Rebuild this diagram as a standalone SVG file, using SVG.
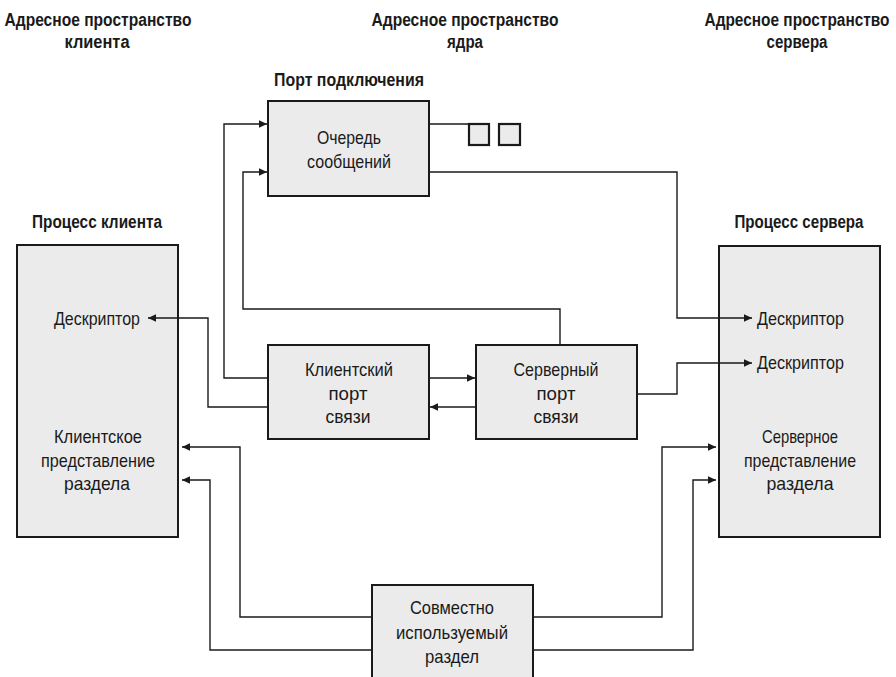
<svg xmlns="http://www.w3.org/2000/svg" width="896" height="677" viewBox="0 0 896 677">
  <style>
    text { font-family: "Liberation Sans", Arial, sans-serif; fill: #1a1a1a; text-anchor: middle; }
    .title { font-size: 18px; font-weight: bold; }
    .lbl { font-size: 19px; }
    .lbl-l { font-size: 19px; text-anchor: start; }
    .box { fill: #ebebeb; stroke: #1a1a1a; stroke-width: 2; }
    .cell { fill: #ebebeb; stroke: #1a1a1a; stroke-width: 2.2; }
    .wire { fill: none; stroke: #1a1a1a; stroke-width: 1.4; }
    .arr { fill: none; stroke: #1a1a1a; stroke-width: 1.4; marker-end: url(#head); }
  </style>
  <defs>
    <marker id="head" markerUnits="userSpaceOnUse" markerWidth="10" markerHeight="10" viewBox="0 0 10 10" refX="9" refY="5" orient="auto">
      <path d="M1,1.2 L9,5 L1,8.8 Z" fill="#1a1a1a"/>
    </marker>
  </defs>
  <rect width="896" height="677" fill="#ffffff"/>

  <!-- address space headings -->
  <g id="headings">
    <text class="title" x="98" y="26" textLength="187" lengthAdjust="spacingAndGlyphs">Адресное пространство</text>
    <text class="title" x="97" y="48" textLength="65" lengthAdjust="spacingAndGlyphs">клиента</text>
    <text class="title" x="465" y="26" textLength="187" lengthAdjust="spacingAndGlyphs">Адресное пространство</text>
    <text class="title" x="465" y="48" textLength="36" lengthAdjust="spacingAndGlyphs">ядра</text>
    <text class="title" x="797" y="26" textLength="185" lengthAdjust="spacingAndGlyphs">Адресное пространство</text>
    <text class="title" x="797" y="48" textLength="61" lengthAdjust="spacingAndGlyphs">сервера</text>
  </g>

  <!-- connection port with message queue -->
  <g id="connection-port">
    <text class="title" x="349" y="86" textLength="150" lengthAdjust="spacingAndGlyphs">Порт подключения</text>
    <rect class="box" x="268" y="101" width="161" height="95"/>
    <text class="lbl" x="349" y="144" textLength="64" lengthAdjust="spacingAndGlyphs">Очередь</text>
    <text class="lbl" x="349" y="168" textLength="84" lengthAdjust="spacingAndGlyphs">сообщений</text>
    <rect class="cell" x="469" y="124" width="20" height="21"/>
    <rect class="cell" x="499" y="124" width="21" height="21"/>
  </g>

  <!-- client process -->
  <g id="client-process">
    <text class="title" x="97" y="228" textLength="130" lengthAdjust="spacingAndGlyphs">Процесс клиента</text>
    <rect class="box" x="17" y="245" width="161" height="292"/>
    <text class="lbl" x="97" y="325" textLength="86" lengthAdjust="spacingAndGlyphs">Дескриптор</text>
    <text class="lbl" x="98" y="443" textLength="88" lengthAdjust="spacingAndGlyphs">Клиентское</text>
    <text class="lbl" x="98" y="467" textLength="114" lengthAdjust="spacingAndGlyphs">представление</text>
    <text class="lbl" x="97" y="490" textLength="66" lengthAdjust="spacingAndGlyphs">раздела</text>
  </g>

  <!-- server process -->
  <g id="server-process">
    <text class="title" x="799" y="228" textLength="129" lengthAdjust="spacingAndGlyphs">Процесс сервера</text>
    <rect class="box" x="719" y="246" width="161" height="291"/>
    <text class="lbl-l" x="757" y="325" textLength="87" lengthAdjust="spacingAndGlyphs">Дескриптор</text>
    <text class="lbl-l" x="757" y="369" textLength="87" lengthAdjust="spacingAndGlyphs">Дескриптор</text>
    <text class="lbl" x="800" y="443" textLength="76" lengthAdjust="spacingAndGlyphs">Серверное</text>
    <text class="lbl" x="800" y="467" textLength="112" lengthAdjust="spacingAndGlyphs">представление</text>
    <text class="lbl" x="800" y="490" textLength="67" lengthAdjust="spacingAndGlyphs">раздела</text>
  </g>

  <!-- client communication port -->
  <g id="client-comm-port">
    <rect class="box" x="268" y="345" width="161" height="94"/>
    <text class="lbl" x="349" y="376" textLength="88" lengthAdjust="spacingAndGlyphs">Клиентский</text>
    <text class="lbl" x="348" y="400" textLength="39" lengthAdjust="spacingAndGlyphs">порт</text>
    <text class="lbl" x="348" y="423" textLength="45" lengthAdjust="spacingAndGlyphs">связи</text>
  </g>

  <!-- server communication port -->
  <g id="server-comm-port">
    <rect class="box" x="476" y="345" width="161" height="94"/>
    <text class="lbl" x="556" y="376" textLength="85" lengthAdjust="spacingAndGlyphs">Серверный</text>
    <text class="lbl" x="556" y="400" textLength="39" lengthAdjust="spacingAndGlyphs">порт</text>
    <text class="lbl" x="556" y="423" textLength="45" lengthAdjust="spacingAndGlyphs">связи</text>
  </g>

  <!-- shared section -->
  <g id="shared-section">
    <rect class="box" x="372" y="585" width="161" height="110"/>
    <text class="lbl" x="452" y="614" textLength="84" lengthAdjust="spacingAndGlyphs">Совместно</text>
    <text class="lbl" x="452" y="639" textLength="112" lengthAdjust="spacingAndGlyphs">используемый</text>
    <text class="lbl" x="452" y="663" textLength="54" lengthAdjust="spacingAndGlyphs">раздел</text>
  </g>

  <!-- connectors, drawn last so arrowheads inside the process boxes stay visible -->
  <g id="connectors">
    <path class="arr" d="M268,378 H224 V124 H267"/>
    <path class="arr" d="M560,345 V309 H243 V172 H267"/>
    <path class="arr" d="M429,172 H677 V318 H752"/>
    <path class="wire" d="M429,124 H469"/>
    <path class="arr" d="M429,378 H475"/>
    <path class="arr" d="M476,407 H430"/>
    <path class="arr" d="M268,407 H208 V318 H148"/>
    <path class="arr" d="M637,394 H677 V363 H752"/>
    <path class="arr" d="M372,617 H240 V447 H182"/>
    <path class="arr" d="M372,650 H210 V480 H182"/>
    <path class="arr" d="M533,617 H662 V447 H716"/>
    <path class="arr" d="M533,650 H693 V480 H716"/>
  </g>
</svg>
